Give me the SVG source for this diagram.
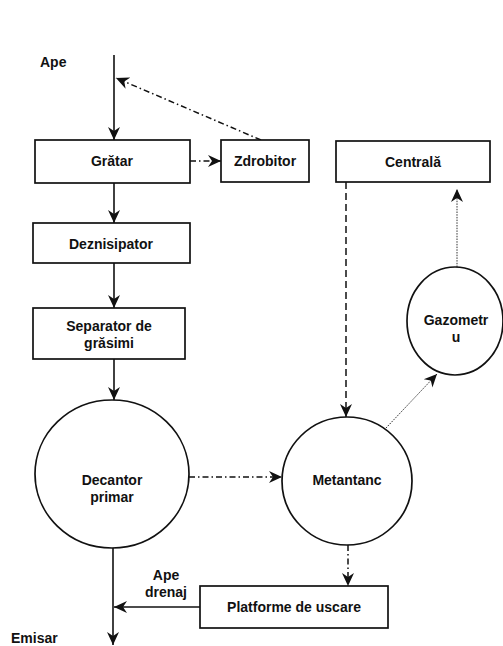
<svg xmlns="http://www.w3.org/2000/svg" width="503" height="646" viewBox="0 0 503 646">
<style>
.box{fill:#fff;stroke:#111;stroke-width:1.7}
.t{font-family:"Liberation Sans",Arial,sans-serif;font-size:14px;font-weight:bold;fill:#111;text-anchor:middle}
.tl{font-family:"Liberation Sans",Arial,sans-serif;font-size:14px;font-weight:bold;fill:#111}
.solid{fill:none;stroke:#111;stroke-width:1.6}
.dashdot{fill:none;stroke:#111;stroke-width:1.5;stroke-dasharray:6 3 1.5 3}
.dashed{fill:none;stroke:#111;stroke-width:1.5;stroke-dasharray:7 4}
.dotted{fill:none;stroke:#333;stroke-width:1;stroke-dasharray:1.5 1.2}
</style>
<defs>
<marker id="arr" markerUnits="userSpaceOnUse" markerWidth="14" markerHeight="14" viewBox="0 0 14 14" refX="13" refY="7" orient="auto">
<path d="M0,1 L13,7 L0,13 L4,7 Z" fill="#111"/>
</marker>
</defs>
<rect width="503" height="646" fill="#fff"/>
<g id="connectors">
<path class="solid" d="M114,55 L114,140" marker-end="url(#arr)"/>
<path class="solid" d="M114,183 L114,223" marker-end="url(#arr)"/>
<path class="solid" d="M114,263 L114,308" marker-end="url(#arr)"/>
<path class="solid" d="M114,359 L114,400" marker-end="url(#arr)"/>
<path class="solid" d="M113,547 L113,645" marker-end="url(#arr)"/>
<path class="dashdot" d="M190,161 L221,161" marker-end="url(#arr)"/>
<path class="dashdot" d="M261,140 L116,78" marker-end="url(#arr)"/>
<path class="dashdot" d="M189,477 L282,477" marker-end="url(#arr)"/>
<path class="dashed" d="M346,182 L346,417" marker-end="url(#arr)"/>
<path class="dotted" d="M386,428 L437,374" marker-end="url(#arr)"/>
<path class="dotted" d="M457,267 L457,189" marker-end="url(#arr)"/>
<path class="dashdot" d="M348,545 L348,586" marker-end="url(#arr)"/>
<path class="solid" d="M200,607 L114,607" marker-end="url(#arr)"/>
</g>
<g id="label-ape"><text class="tl" x="40" y="67">Ape</text></g>
<g id="label-emisar"><text class="tl" x="11" y="643">Emisar</text></g>
<g id="label-ape-drenaj"><text class="t" x="166" y="580">Ape</text><text class="t" x="166" y="597">drenaj</text></g>
<g id="gratar"><rect class="box" x="35" y="140" width="155" height="43"/><text class="t" x="112" y="166">Grătar</text></g>
<g id="zdrobitor"><rect class="box" x="221" y="140" width="88" height="42"/><text class="t" x="265" y="166">Zdrobitor</text></g>
<g id="centrala"><rect class="box" x="336" y="141" width="154" height="41"/><text class="t" x="413" y="167">Centrală</text></g>
<g id="deznisipator"><rect class="box" x="33" y="223" width="157" height="40"/><text class="t" x="111" y="249">Deznisipator</text></g>
<g id="separator"><rect class="box" x="33" y="308" width="152" height="51"/><text class="t" x="109" y="331">Separator de</text><text class="t" x="109" y="348">grăsimi</text></g>
<g id="decantor"><ellipse class="box" cx="112" cy="474" rx="77" ry="74"/><text class="t" x="112" y="485">Decantor</text><text class="t" x="112" y="502">primar</text></g>
<g id="metantanc"><ellipse class="box" cx="347" cy="481" rx="65" ry="64"/><text class="t" x="347" y="485">Metantanc</text></g>
<g id="gazometru"><ellipse class="box" cx="455" cy="321" rx="48" ry="54"/><text class="t" x="456" y="325">Gazometr</text><text class="t" x="456" y="342">u</text></g>
<g id="platforme"><rect class="box" x="200" y="586" width="188" height="42"/><text class="t" x="294" y="612">Platforme de uscare</text></g>
</svg>
